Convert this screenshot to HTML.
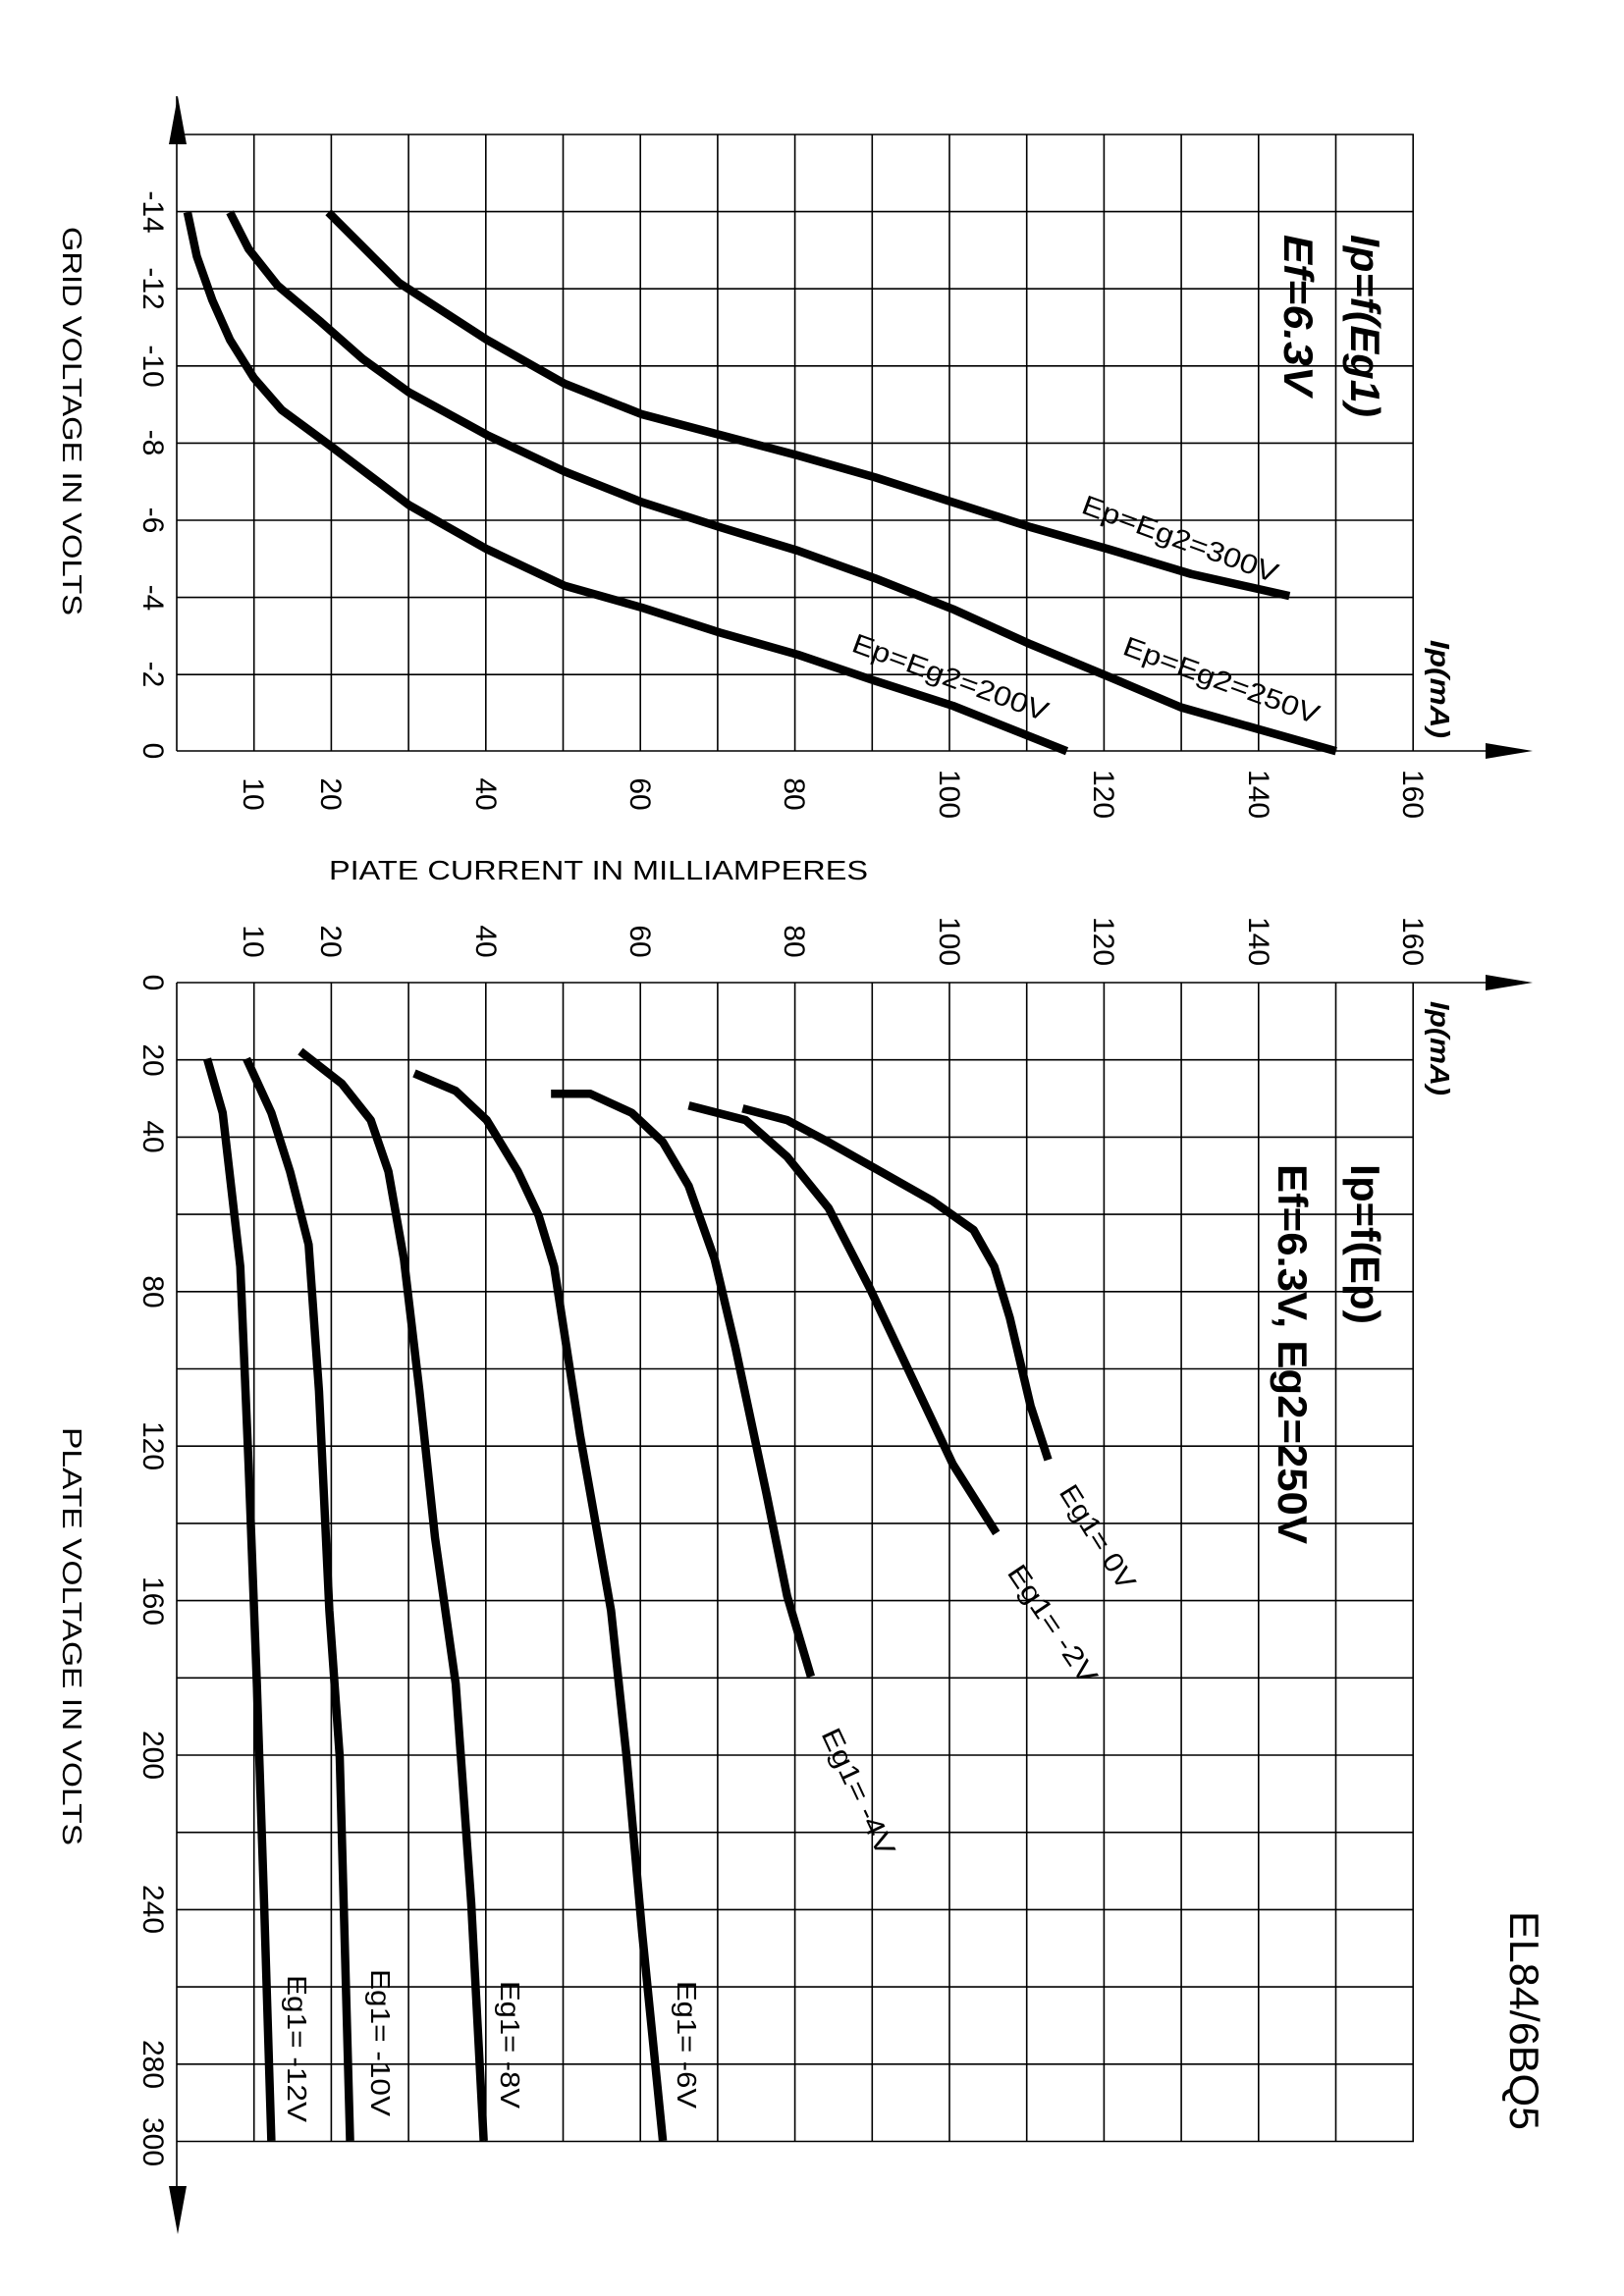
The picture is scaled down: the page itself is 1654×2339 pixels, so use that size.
<!DOCTYPE html>
<html><head><meta charset="utf-8"><style>
html,body{margin:0;padding:0;background:#fff}
svg{display:block}
text{font-family:"Liberation Sans",sans-serif;fill:#000}
</style></head><body>
<svg width="1654" height="2339" viewBox="0 0 1654 2339" xmlns="http://www.w3.org/2000/svg">
<g stroke="#000" stroke-width="1.6" fill="none">
<path d="M180 137H1440M180 215.6H1440M180 294.2H1440M180 372.8H1440M180 451.4H1440M180 530H1440M180 608.6H1440M180 687.2H1440"/>
<path d="M258.7 137V765M337.4 137V765M416.1 137V765M494.8 137V765M573.5 137V765M652.2 137V765M730.9 137V765M809.6 137V765M888.3 137V765M967 137V765M1045.7 137V765M1124.4 137V765M1203.1 137V765M1281.8 137V765M1360.5 137V765M1439.2 137V765"/>
<path d="M180 765H1520M180 98V765"/>
<path d="M180 1079.7H1440M180 1158.4H1440M180 1237.1H1440M180 1315.8H1440M180 1394.5H1440M180 1473.2H1440M180 1551.9H1440M180 1630.6H1440M180 1709.3H1440M180 1788H1440M180 1866.7H1440M180 1945.4H1440M180 2024.1H1440M180 2102.8H1440M180 2181.5H1440"/>
<path d="M258.7 1001V2181.5M337.4 1001V2181.5M416.1 1001V2181.5M494.8 1001V2181.5M573.5 1001V2181.5M652.2 1001V2181.5M730.9 1001V2181.5M809.6 1001V2181.5M888.3 1001V2181.5M967 1001V2181.5M1045.7 1001V2181.5M1124.4 1001V2181.5M1203.1 1001V2181.5M1281.8 1001V2181.5M1360.5 1001V2181.5M1439.2 1001V2181.5"/>
<path d="M180 1001H1520M180 1001V2240"/>
</g>
<g fill="#000">
<polygon points="1561,765 1513,757 1513,773"/>
<polygon points="1561,1001 1513,993 1513,1009"/>
<polygon points="181,98 172,147 190,147"/>
<polygon points="181,2276 172,2227 190,2227"/>
</g>
<g transform="scale(1.05485,1.49170)" fill="none" stroke="#000" stroke-width="8.5" stroke-linejoin="round" stroke-linecap="butt">
<path vector-effect="non-scaling-stroke" d="M317 145 L385 193 L470 232 L545 262 L620 283 L695 297 L770 311 L845 326 L920 343 L995 360 L1070 375 L1150 392 L1245 407"/>
<path vector-effect="non-scaling-stroke" d="M222 145 L240 170 L268 195 L310 220 L350 245 L395 268 L470 297 L545 322 L620 343 L695 360 L770 376 L845 395 L920 416 L995 440 L1070 462 L1140 483 L1290 513"/>
<path vector-effect="non-scaling-stroke" d="M181 145 L190 175 L205 205 L222 232 L245 258 L272 280 L320 305 L395 345 L470 375 L545 400 L620 415 L695 432 L770 447 L845 465 L920 482 L1030 513"/>
<path vector-effect="non-scaling-stroke" d="M200 723 L215 760 L232 865 L240 1000 L248 1150 L255 1300 L262 1462"/>
<path vector-effect="non-scaling-stroke" d="M238 723 L262 760 L280 800 L298 850 L308 950 L318 1100 L328 1200 L338 1462"/>
<path vector-effect="non-scaling-stroke" d="M290 718 L330 740 L358 765 L375 800 L390 860 L405 950 L420 1050 L440 1150 L455 1300 L467 1462"/>
<path vector-effect="non-scaling-stroke" d="M400 733 L440 745 L470 765 L500 800 L520 830 L535 865 L560 980 L590 1100 L605 1200 L620 1320 L640 1462"/>
<path vector-effect="non-scaling-stroke" d="M532 747 L570 747 L610 760 L640 780 L665 810 L690 860 L710 920 L740 1020 L760 1090 L783 1145"/>
<path vector-effect="non-scaling-stroke" d="M665 755 L720 765 L760 790 L800 825 L840 880 L880 940 L920 1000 L962 1047"/>
<path vector-effect="non-scaling-stroke" d="M717 757 L760 765 L800 780 L850 800 L900 820 L940 840 L960 865 L975 900 L995 960 L1012 997"/>
</g>
<g font-size="30" text-anchor="middle">
<text transform="translate(146,216) rotate(90)">-14</text>
<text transform="translate(146,294) rotate(90)">-12</text>
<text transform="translate(146,373) rotate(90)">-10</text>
<text transform="translate(146,451) rotate(90)">-8</text>
<text transform="translate(146,530) rotate(90)">-6</text>
<text transform="translate(146,609) rotate(90)">-4</text>
<text transform="translate(146,687) rotate(90)">-2</text>
<text transform="translate(146,765) rotate(90)">0</text>
<text transform="translate(146,1001) rotate(90)">0</text>
<text transform="translate(146,1080) rotate(90)">20</text>
<text transform="translate(146,1158) rotate(90)">40</text>
<text transform="translate(146,1316) rotate(90)">80</text>
<text transform="translate(146,1473) rotate(90)">120</text>
<text transform="translate(146,1631) rotate(90)">160</text>
<text transform="translate(146,1788) rotate(90)">200</text>
<text transform="translate(146,1945) rotate(90)">240</text>
<text transform="translate(146,2103) rotate(90)">280</text>
<text transform="translate(146,2182) rotate(90)">300</text>
<text transform="translate(248,809) rotate(90)">10</text>
<text transform="translate(327,809) rotate(90)">20</text>
<text transform="translate(485,809) rotate(90)">40</text>
<text transform="translate(642,809) rotate(90)">60</text>
<text transform="translate(799,809) rotate(90)">80</text>
<text transform="translate(957,809) rotate(90)">100</text>
<text transform="translate(1114,809) rotate(90)">120</text>
<text transform="translate(1272,809) rotate(90)">140</text>
<text transform="translate(1429,809) rotate(90)">160</text>
<text transform="translate(248,959) rotate(90)">10</text>
<text transform="translate(327,959) rotate(90)">20</text>
<text transform="translate(485,959) rotate(90)">40</text>
<text transform="translate(642,959) rotate(90)">60</text>
<text transform="translate(799,959) rotate(90)">80</text>
<text transform="translate(957,959) rotate(90)">100</text>
<text transform="translate(1114,959) rotate(90)">120</text>
<text transform="translate(1272,959) rotate(90)">140</text>
<text transform="translate(1429,959) rotate(90)">160</text>
</g>
<g font-size="28">
<text transform="translate(64,231) rotate(90)" textLength="396" lengthAdjust="spacingAndGlyphs">GRID VOLTAGE IN VOLTS</text>
<text transform="translate(64,1454) rotate(90)" textLength="426" lengthAdjust="spacingAndGlyphs">PLATE VOLTAGE IN VOLTS</text>
<text x="335" y="896" textLength="549" lengthAdjust="spacingAndGlyphs">PIATE CURRENT IN MILLIAMPERES</text>
<text transform="translate(1457,652) rotate(90)" font-style="italic" font-weight="bold" textLength="100" lengthAdjust="spacingAndGlyphs">Ip(mA)</text>
<text transform="translate(1457,1020) rotate(90)" font-style="italic" font-weight="bold" textLength="96" lengthAdjust="spacingAndGlyphs">Ip(mA)</text>
</g>
<g font-size="42" font-weight="bold">
<text transform="translate(1376,239) rotate(90)" font-style="italic" textLength="186" lengthAdjust="spacingAndGlyphs">Ip=f(Eg1)</text>
<text transform="translate(1308,239) rotate(90)" font-style="italic" textLength="164" lengthAdjust="spacingAndGlyphs">Ef=6.3V</text>
<text transform="translate(1376,1186) rotate(90)" textLength="163" lengthAdjust="spacingAndGlyphs">Ip=f(Ep)</text>
<text transform="translate(1302,1186) rotate(90)" textLength="387" lengthAdjust="spacingAndGlyphs">Ef=6.3V, Eg2=250V</text>
</g>
<text transform="translate(1538,1947) rotate(90)" font-size="42" textLength="223" lengthAdjust="spacingAndGlyphs">EL84/6BQ5</text>
<g font-size="28">
<text transform="translate(1100,522) rotate(20)" textLength="210" lengthAdjust="spacingAndGlyphs">Ep=Eg2=300V</text>
<text transform="translate(1142,666) rotate(20)" textLength="210" lengthAdjust="spacingAndGlyphs">Ep=Eg2=250V</text>
<text transform="translate(866,663) rotate(20)" textLength="210" lengthAdjust="spacingAndGlyphs">Ep=Eg2=200V</text>
<text transform="translate(1078,1520) rotate(58)" textLength="120" lengthAdjust="spacingAndGlyphs">Eg1= 0V</text>
<text transform="translate(1025,1602) rotate(56)" textLength="140" lengthAdjust="spacingAndGlyphs">Eg1= -2V</text>
<text transform="translate(836,1766) rotate(65)" textLength="140" lengthAdjust="spacingAndGlyphs">Eg1= -4V</text>
<text transform="translate(690,2018) rotate(90)" textLength="130" lengthAdjust="spacingAndGlyphs">Eg1= -6V</text>
<text transform="translate(510,2018) rotate(90)" textLength="130" lengthAdjust="spacingAndGlyphs">Eg1= -8V</text>
<text transform="translate(378,2006) rotate(90)" textLength="150" lengthAdjust="spacingAndGlyphs">Eg1= -10V</text>
<text transform="translate(293,2012) rotate(90)" textLength="150" lengthAdjust="spacingAndGlyphs">Eg1= -12V</text>
</g>
</svg>
</body></html>
